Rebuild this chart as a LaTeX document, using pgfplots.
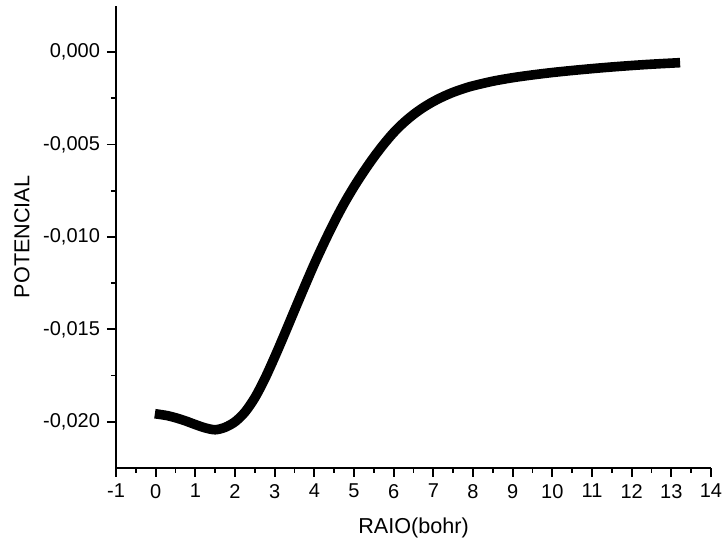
\documentclass[border=0pt]{standalone}
\usepackage{fontspec}
\setmainfont{Liberation Sans}
\usepackage{pgfplots}
\pgfplotsset{compat=1.18}
\begin{document}
\begin{tikzpicture}
\path[use as bounding box] (-58pt,-38.5pt) rectangle (304pt,234pt);
\begin{axis}[
  at={(0,0)}, anchor=south west,
  scale only axis, width=297.5pt, height=231pt,
  xmin=-1, xmax=14, ymin=-0.0225, ymax=0.0025,
  axis lines*=left, axis line style={line width=1pt},
  xtick={-1,0,...,14}, ytick={-0.020,-0.015,-0.010,-0.005,0},
  minor x tick num=1, minor y tick num=1,
  tick align=outside, tick style={black, line width=0.9pt},
  major tick length=4.5pt, minor tick length=2.5pt,
  scaled y ticks=false,
  yticklabel style={/pgf/number format/.cd, fixed, fixed zerofill, precision=3, use comma, assume math mode=true},
  xticklabel style={/pgf/number format/assume math mode=true},
  ticklabel style={font=\fontsize{10pt}{12pt}\selectfont},
  xlabel={RAIO(bohr)}, ylabel={POTENCIAL},
  label style={font=\fontsize{10.8pt}{13pt}\selectfont},
  xlabel style={at={(axis description cs:0.5,-0.130)}, anchor=center},
  ylabel style={at={(axis description cs:-0.158,0.5)}, anchor=center},
  clip=false,
]
\addplot[black, line width=4.8pt, line cap=rect, line join=round, smooth] coordinates {
(0.10,-0.01960) (0.30,-0.01967) (0.50,-0.01978) (0.75,-0.01995) (1.00,-0.02015)
(1.25,-0.02033) (1.50,-0.02043) (1.75,-0.02030) (2.00,-0.02000) (2.25,-0.01948)
(2.50,-0.01870) (2.75,-0.01768) (3.00,-0.01650) (3.25,-0.01525) (3.50,-0.01397)
(3.75,-0.01270) (4.00,-0.01146) (4.25,-0.01030) (4.50,-0.00920) (4.75,-0.00819)
(5.00,-0.00728) (5.25,-0.00645) (5.50,-0.00568) (5.75,-0.00498) (6.00,-0.00435)
(6.25,-0.00382) (6.50,-0.00337) (6.75,-0.00299) (7.00,-0.00267) (7.25,-0.00240)
(7.50,-0.00217) (7.75,-0.00198) (8.00,-0.00182) (8.50,-0.00157) (9.00,-0.00138)
(9.50,-0.00123) (10.00,-0.00110) (10.50,-0.00099) (11.00,-0.00089) (11.50,-0.00080)
(12.00,-0.00072) (12.50,-0.00065) (13.10,-0.00058)
};
\end{axis}
\end{tikzpicture}
\end{document}
